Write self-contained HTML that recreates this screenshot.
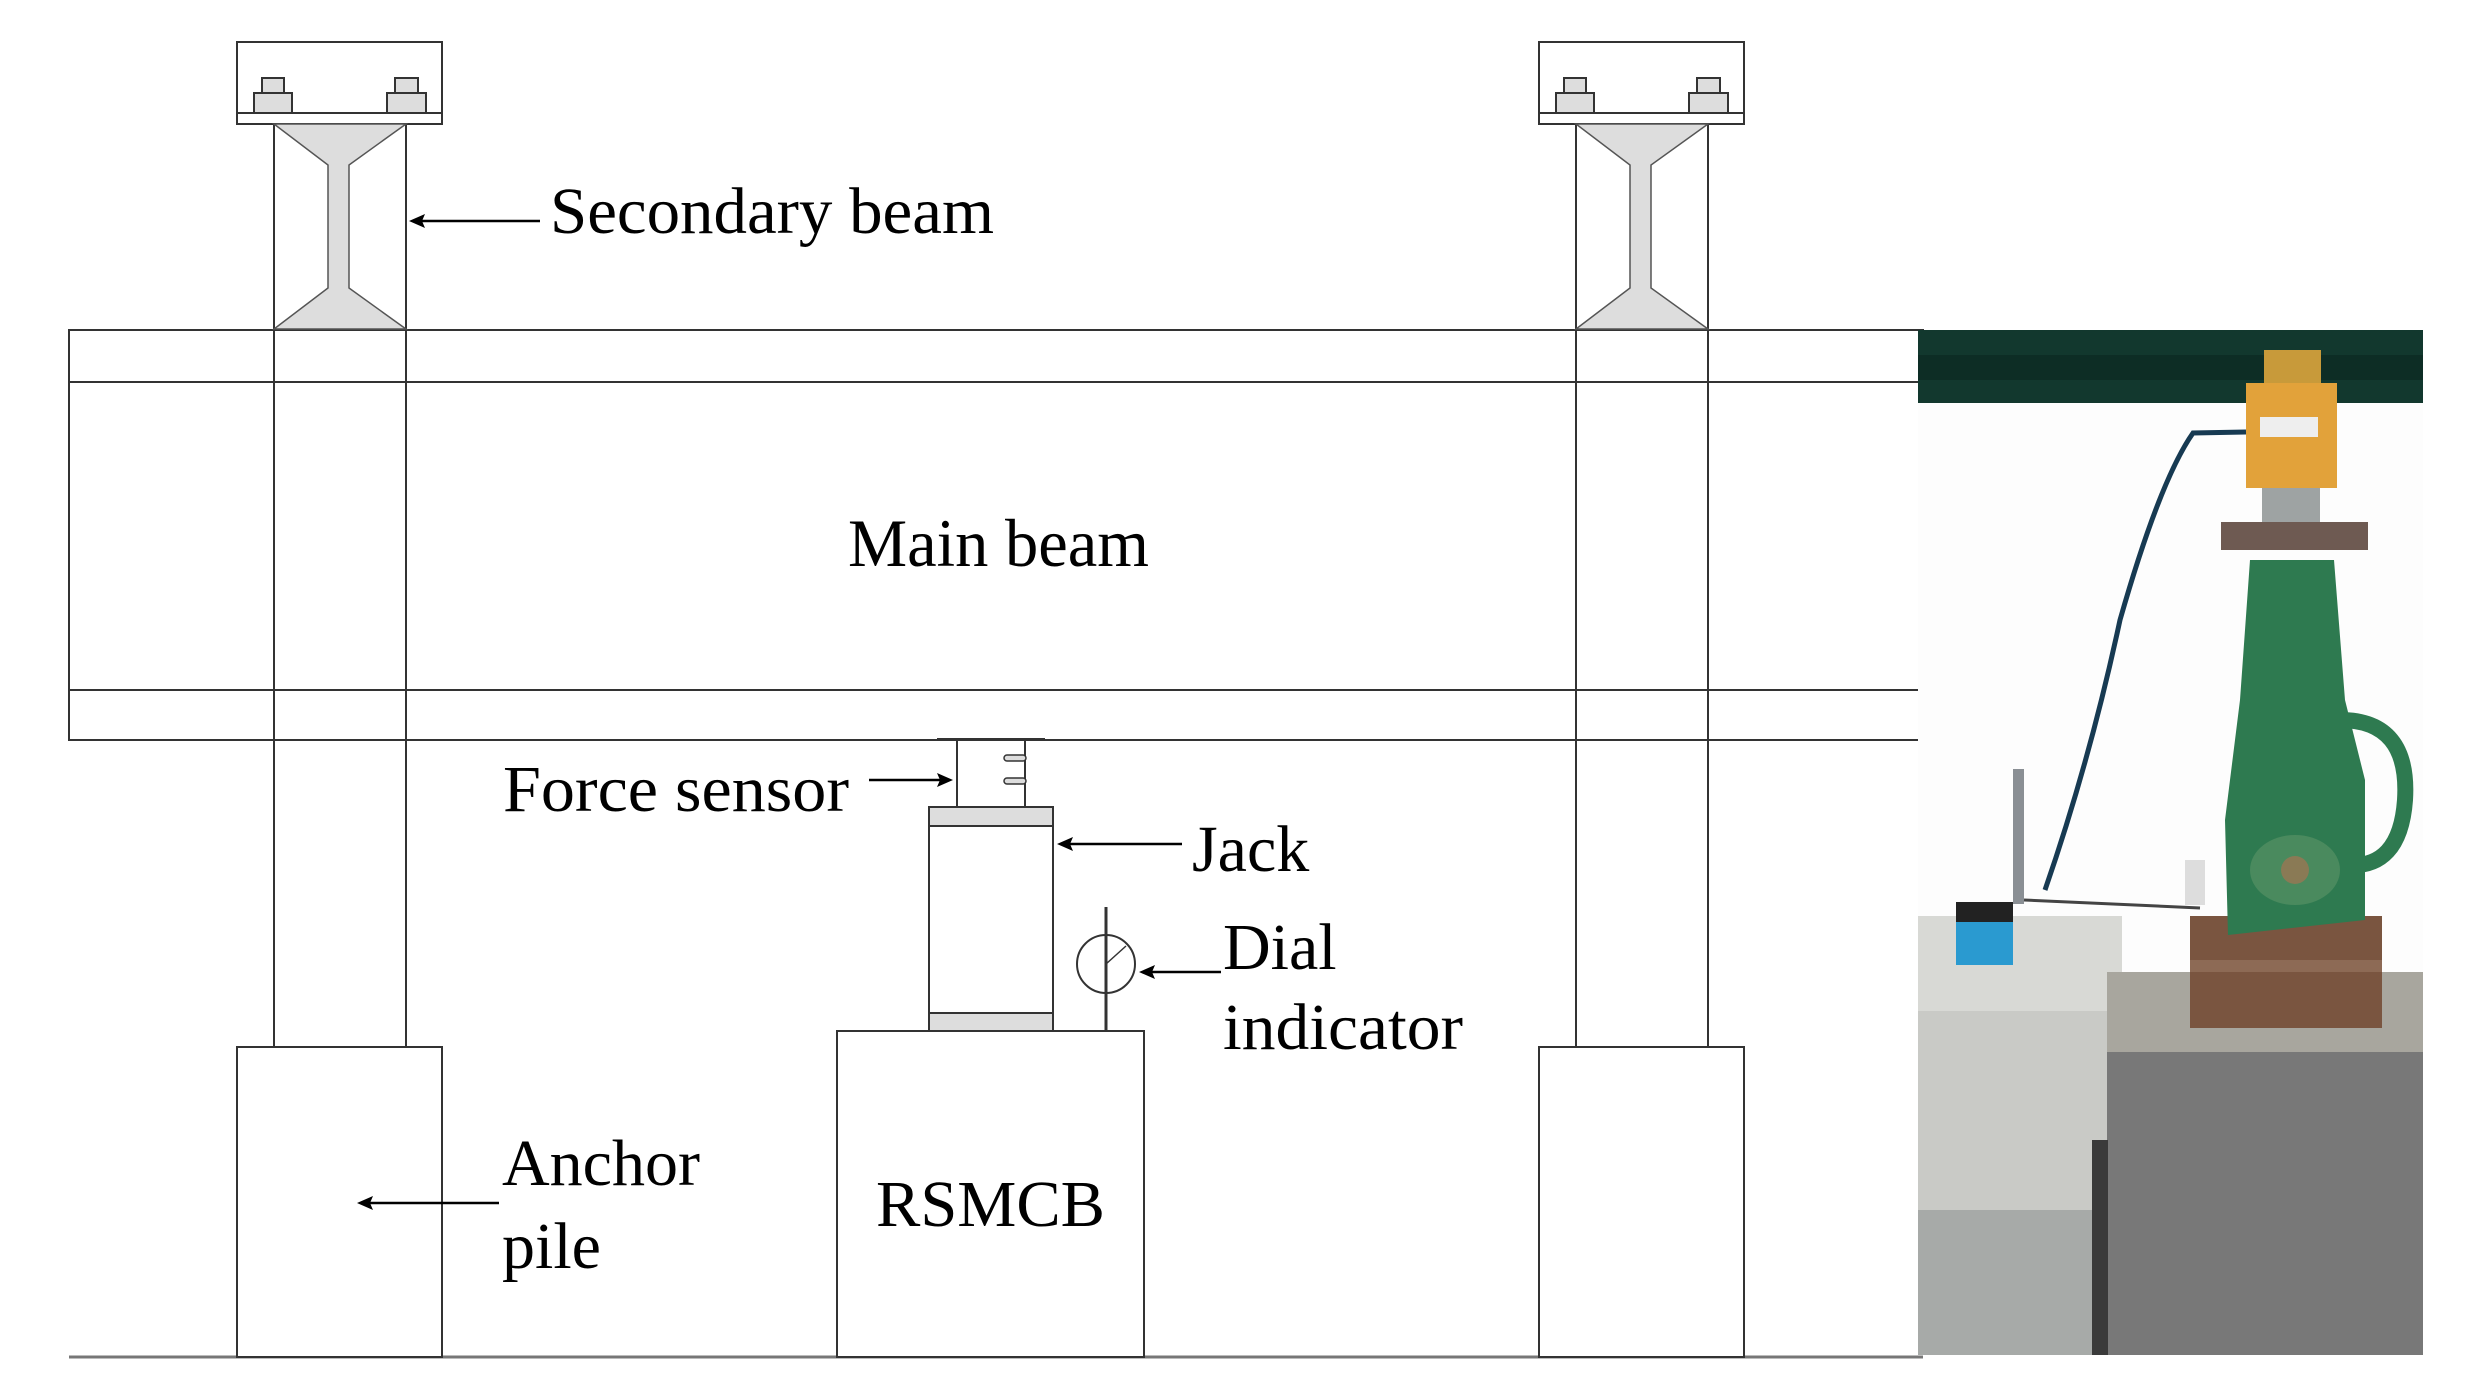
<!DOCTYPE html>
<html><head><meta charset="utf-8"><style>
html,body{margin:0;padding:0;background:#fff;}
svg{display:block;}
text{font-family:"Liberation Serif",serif;fill:#000;}
</style></head><body>
<svg width="2490" height="1397" viewBox="0 0 2490 1397" xmlns="http://www.w3.org/2000/svg">
<g stroke="#333" stroke-width="2" fill="none">
<rect x="69" y="330" width="1854" height="410" fill="#fff"/>
<line x1="69" y1="382" x2="1923" y2="382"/>
<line x1="69" y1="690" x2="1923" y2="690"/>
<line x1="69" y1="1357" x2="1923" y2="1357" stroke="#777" stroke-width="3"/>
</g>
<g stroke="#333" stroke-width="2">
<rect x="237" y="42" width="205" height="82" fill="#fff"/>
<line x1="237" y1="113" x2="442" y2="113"/>
<rect x="254" y="93" width="38" height="20" fill="#ddd"/>
<rect x="262" y="78" width="22" height="15" fill="#ddd"/>
<rect x="387" y="93" width="39" height="20" fill="#ddd"/>
<rect x="395" y="78" width="23" height="15" fill="#ddd"/>
<line x1="274" y1="124" x2="274" y2="1047"/>
<line x1="406" y1="124" x2="406" y2="1047"/>
<path d="M274,124 L406,124 L349,165 L349,288 L406,329 L274,329 L328,288 L328,165 Z" fill="#ddd" stroke="#555" stroke-width="1.5"/>
<rect x="237" y="1047" width="205" height="310" fill="#fff"/>
</g>
<g stroke="#333" stroke-width="2" transform="translate(-8,0)">
<rect x="1547" y="42" width="205" height="82" fill="#fff"/>
<line x1="1547" y1="113" x2="1752" y2="113"/>
<rect x="1564" y="93" width="38" height="20" fill="#ddd"/>
<rect x="1572" y="78" width="22" height="15" fill="#ddd"/>
<rect x="1697" y="93" width="39" height="20" fill="#ddd"/>
<rect x="1705" y="78" width="23" height="15" fill="#ddd"/>
<line x1="1584" y1="124" x2="1584" y2="1047"/>
<line x1="1716" y1="124" x2="1716" y2="1047"/>
<path d="M1584,124 L1716,124 L1659,165 L1659,288 L1716,329 L1584,329 L1638,288 L1638,165 Z" fill="#ddd" stroke="#555" stroke-width="1.5"/>
<rect x="1547" y="1047" width="205" height="310" fill="#fff"/>
</g>
<g stroke="#333" stroke-width="2" fill="#fff">
<line x1="937" y1="739" x2="1045" y2="739"/>
<line x1="957" y1="739" x2="957" y2="807"/>
<line x1="1025" y1="739" x2="1025" y2="807"/>
<rect x="1004" y="755" width="22" height="6" rx="3" fill="#ddd" stroke-width="1.5"/>
<rect x="1004" y="778" width="22" height="6" rx="3" fill="#ddd" stroke-width="1.5"/>
<rect x="929" y="807" width="124" height="224"/>
<rect x="929" y="807" width="124" height="19" fill="#ddd"/>
<rect x="929" y="1013" width="124" height="18" fill="#ddd"/>
<rect x="837" y="1031" width="307" height="326"/>
<line x1="1106" y1="907" x2="1106" y2="1031" stroke-width="3"/>
<ellipse cx="1106" cy="964" rx="29" ry="29" fill="none"/>
<line x1="1106" y1="964" x2="1126" y2="946" stroke-width="1.5"/>
</g>
<g stroke="#000" stroke-width="2.5" fill="none">
<line x1="540" y1="221" x2="420" y2="221"/>
<line x1="869" y1="780" x2="940" y2="780"/>
<line x1="1182" y1="844" x2="1068" y2="844"/>
<line x1="1221" y1="972" x2="1150" y2="972"/>
<line x1="499" y1="1203" x2="368" y2="1203"/>
</g>
<g fill="#000">
<path d="M409,221 L425,214 L422,221 L425,228 Z"/>
<path d="M953,780 L937,773 L940,780 L937,787 Z"/>
<path d="M1057,844 L1073,837 L1070,844 L1073,851 Z"/>
<path d="M1139,972 L1155,965 L1152,972 L1155,979 Z"/>
<path d="M357,1203 L373,1196 L370,1203 L373,1210 Z"/>
</g>
<g font-size="66">
<text x="550" y="233" textLength="444" lengthAdjust="spacingAndGlyphs">Secondary beam</text>
<text x="848" y="566" font-size="68" textLength="301" lengthAdjust="spacingAndGlyphs">Main beam</text>
<text x="503" y="811" textLength="346" lengthAdjust="spacingAndGlyphs">Force sensor</text>
<text x="1192" y="871">Jack</text>
<text x="1223" y="969">Dial</text>
<text x="1223" y="1049" textLength="240" lengthAdjust="spacingAndGlyphs">indicator</text>
<text x="876" y="1226" textLength="229" lengthAdjust="spacingAndGlyphs">RSMCB</text>
<text x="502" y="1185">Anchor</text>
<text x="502" y="1268">pile</text>
</g>
<g>
<rect x="1918" y="330" width="505" height="1025" fill="#fdfdfd"/>
<rect x="1918" y="330" width="505" height="73" fill="#12382e"/>
<rect x="1918" y="355" width="505" height="25" fill="#0b2a22" opacity="0.7"/>
<rect x="1918" y="916" width="204" height="439" fill="#c9cac6"/>
<rect x="1918" y="916" width="204" height="95" fill="#d8d9d5"/>
<rect x="1918" y="1210" width="190" height="145" fill="#a7aaa8"/>
<rect x="2107" y="972" width="316" height="80" fill="#a8a69e"/>
<rect x="2107" y="1052" width="316" height="303" fill="#787878"/>
<rect x="2092" y="1140" width="16" height="215" fill="#3a3a3a"/>
<rect x="2190" y="916" width="192" height="112" fill="#7a5540"/>
<rect x="2190" y="960" width="192" height="12" fill="#8d6a55"/>
<path d="M2250,560 L2334,560 L2345,700 L2365,780 L2365,920 L2228,935 L2225,820 L2240,700 Z" fill="#2e7a50"/>
<path d="M2340,720 Q2410,720 2405,800 Q2400,870 2345,865" stroke="#2e7a50" stroke-width="16" fill="none"/>
<ellipse cx="2295" cy="870" rx="45" ry="35" fill="#4a8a5e"/>
<circle cx="2295" cy="870" r="14" fill="#8a7a55"/>
<rect x="2221" y="522" width="147" height="28" fill="#6e5a52"/>
<rect x="2262" y="488" width="58" height="34" fill="#9ea3a3"/>
<rect x="2246" y="383" width="91" height="105" fill="#e2a23a"/>
<rect x="2264" y="350" width="57" height="33" fill="#c89a3a"/>
<rect x="2260" y="417" width="58" height="20" fill="#eee"/>
<path d="M2246,432 L2193,433 Q2160,480 2120,620 Q2090,760 2045,890" stroke="#173a52" stroke-width="5" fill="none"/>
<rect x="2013" y="769" width="11" height="135" fill="#8a8f94"/>
<rect x="1956" y="902" width="57" height="63" fill="#2a9ad0"/>
<rect x="1956" y="902" width="57" height="20" fill="#222"/>
<line x1="2024" y1="900" x2="2200" y2="908" stroke="#444" stroke-width="3"/>
<rect x="2185" y="860" width="20" height="45" fill="#ddd"/>
</g>
</svg>
</body></html>
